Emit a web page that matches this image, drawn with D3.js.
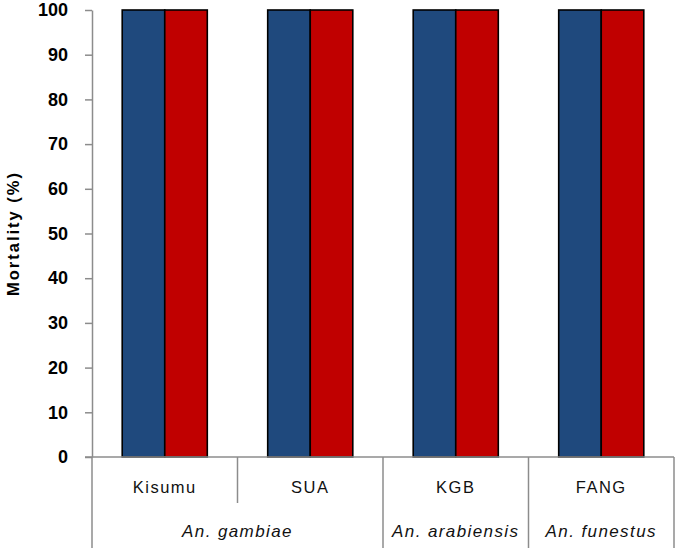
<!DOCTYPE html>
<html>
<head>
<meta charset="utf-8">
<script src="https://cdn.jsdelivr.net/npm/d3@7"></script>
<style>
	body { margin: 0; background: #fff; }
	text { font-family: "Liberation Sans", Arial, sans-serif; }
</style>
</head>
<body>
<div id="chart-area"></div>
<script>
// data
var strains = ["Kisumu", "SUA", "KGB", "FANG"];
var species = ["An. gambiae", "An. arabiensis", "An. funestus"];
var speciesSpan = [2, 1, 1];   // number of strains per species
var series = ["blue", "red"];
var blueValues = [100, 100, 100, 100];
var redValues = [100, 100, 100, 100];
var yTicks = [0, 10, 20, 30, 40, 50, 60, 70, 80, 90, 100];

var W = 677, H = 551;
var margin = {top: 10, right: 3, bottom: 94, left: 92};
var width = W - margin.left - margin.right;
var height = H - margin.top - margin.bottom;

var svg = d3.select("#chart-area").append("svg")
	.attr("width", W)
	.attr("height", H);

var g = svg.append("g")
	.attr("transform", "translate(" + margin.left + ", " + margin.top + ")");

var x = d3.scaleBand()
		.domain(strains)
		.range([0, width])
		.paddingInner(0)
		.paddingOuter(0);

var x1 = d3.scaleBand()
		.domain(series)
		.range([0, x.bandwidth()])
		.paddingOuter(0.71)
		.paddingInner(0);

var y = d3.scaleLinear()
		.domain([0, 100])
		.range([height, 0]);

var color = d3.scaleOrdinal()
		.domain(series)
		.range(["#1f497d", "#c00000"]);

var rows = strains.map((s, i)=>{
	return {strain: s, vals: [{k: "blue", v: blueValues[i]}, {k: "red", v: redValues[i]}]};
});

var groups = g.selectAll("g.grp").data(rows).enter()
	.append("g")
		.attr("class", "grp")
		.attr("transform", (d)=>{ return "translate(" + x(d.strain) + ",0)"; });

groups.selectAll("rect").data((d)=>{ return d.vals; }).enter()
	.append("rect")
		.attr("x", (d)=>{ return x1(d.k); })
		.attr("y", (d)=>{ return y(d.v); })
		.attr("width", x1.bandwidth())
		.attr("height", (d)=>{ return height - y(d.v); })
		.attr("fill", (d)=>{ return color(d.k); })
		.attr("stroke", "#000")
		.attr("stroke-width", 1.6);

// left axis
var leftAxis = d3.axisLeft(y).tickValues(yTicks).tickSize(7).tickPadding(17);
var ya = g.append("g")
	.attr("class", "left axis")
	.call(leftAxis);
ya.select(".domain").attr("stroke", "#8c8c8c").attr("stroke-width", 1.5).attr("d", "M0.5," + (height + 0.5) + "V0.5");
ya.selectAll(".tick line").attr("stroke", "#8c8c8c").attr("stroke-width", 1.5);
ya.selectAll(".tick text")
	.attr("font-size", "18px")
	.attr("font-weight", "bold")
	.attr("fill", "#000")
	.attr("font-family", "'Liberation Sans', Arial, sans-serif");

// baseline
g.append("line")
	.attr("x1", -7).attr("x2", width)
	.attr("y1", height).attr("y2", height)
	.attr("stroke", "#8c8c8c").attr("stroke-width", 1.5);

// left axis extends down through the category rows
g.append("line")
	.attr("x1", 0).attr("x2", 0)
	.attr("y1", height).attr("y2", height + 91)
	.attr("stroke", "#8c8c8c").attr("stroke-width", 1.5);

// separators between strains / species
var cum = 0;
var speciesEdges = speciesSpan.map((n)=>{ cum += n; return cum; });
strains.forEach((s, i)=>{
	var edge = x(s) + x.bandwidth();
	var isSpecies = speciesEdges.indexOf(i + 1) >= 0;
	g.append("line")
		.attr("x1", edge).attr("x2", edge)
		.attr("y1", height)
		.attr("y2", height + (isSpecies ? 91 : 46))
		.attr("stroke", "#8c8c8c").attr("stroke-width", 1.5);
});

// strain labels
g.selectAll("text.strain").data(strains).enter()
	.append("text")
		.attr("class", "strain")
		.attr("x", (d)=>{ return x(d) + x.bandwidth() / 2; })
		.attr("y", height + 36)
		.attr("text-anchor", "middle")
		.attr("font-size", "16.5px")
		.attr("letter-spacing", "1.5px")
		.attr("fill", "#111")
		.text((d)=>{ return d; });

// species labels
var start = 0;
species.forEach((sp, i)=>{
	var x0 = x(strains[start]);
	var xEnd = x(strains[start + speciesSpan[i] - 1]) + x.bandwidth();
	g.append("text")
		.attr("x", (x0 + xEnd) / 2)
		.attr("y", height + 80)
		.attr("text-anchor", "middle")
		.attr("font-size", "17px")
		.attr("font-style", "italic")
		.attr("letter-spacing", "1.4px")
		.attr("fill", "#111")
		.text(sp);
	start += speciesSpan[i];
});

// y label
g.append("text")
	.attr("x", -(height / 2))
	.attr("y", -73)
	.attr("font-size", "16.5px")
	.attr("font-weight", "bold")
	.attr("letter-spacing", "2px")
	.attr("text-anchor", "middle")
	.attr("transform", "rotate(-90)")
	.style("fill", "black")
	.text("Mortality (%)");
</script>
</body>
</html>
